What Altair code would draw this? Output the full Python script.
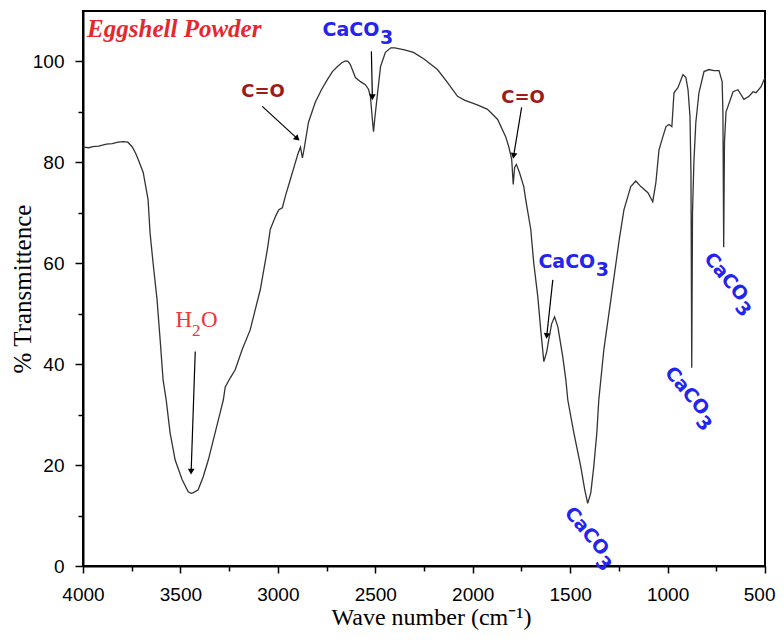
import altair as alt
import pandas as pd

# ---- spectrum (wave number in cm-1, % transmittance) ----
wavenumber = [4000, 3970, 3950, 3920, 3880, 3850, 3820, 3794, 3770, 3748, 3730, 3717, 3691, 3666,
              3656, 3640, 3620, 3604, 3589, 3573, 3553, 3527, 3491, 3460, 3445, 3435, 3409, 3383,
              3357, 3322, 3296, 3280, 3270, 3244, 3219, 3183, 3142, 3116, 3090, 3054, 3039, 3013,
              2995, 2977, 2960, 2936, 2910, 2895, 2884, 2874, 2866, 2843, 2808, 2775, 2746, 2720,
              2694, 2670, 2653, 2640, 2628, 2602, 2576, 2551, 2535, 2525, 2515, 2509, 2503, 2489,
              2473, 2448, 2420, 2400, 2350, 2304, 2250, 2181, 2129, 2078, 2040, 2011, 1970, 1924,
              1872, 1831, 1815, 1800, 1792, 1785, 1776, 1760, 1738, 1728, 1702, 1687, 1666, 1651,
              1635, 1620, 1610, 1595, 1580, 1563, 1538, 1522, 1512, 1481, 1445, 1425, 1410, 1394,
              1379, 1363, 1353, 1327, 1291, 1248, 1224, 1189, 1163, 1137, 1101, 1076, 1060, 1044,
              1024, 1008, 993, 978, 967, 947, 921, 906, 895, 885, 880, 876, 872, 865, 855, 839,
              813, 788, 762, 736, 720, 716, 712, 708, 700, 690, 664, 639, 608, 582, 561, 546, 520,
              505, 500]
transmittance = [83.0, 82.9, 83.1, 83.2, 83.6, 83.7, 84.0, 84.1, 84.0, 83.1, 81.8, 80.6, 78.0, 72.6,
                 66.1, 59.9, 52.8, 44.8, 36.9, 32.9, 26.4, 21.0, 17.1, 14.7, 14.4, 14.5, 15.1, 17.7,
                 21.0, 26.4, 30.4, 32.9, 35.5, 37.3, 38.9, 42.9, 46.8, 50.8, 54.8, 62.7, 66.7, 69.2,
                 70.6, 71.0, 73.5, 76.6, 80.0, 81.9, 83.0, 80.9, 82.5, 87.9, 91.9, 94.5, 96.4, 98.0,
                 99.0, 99.8, 100.1, 100.0, 99.4, 96.8, 96.0, 95.4, 94.5, 93.1, 88.5, 86.1, 88.5, 93.5,
                 99.0, 101.8, 102.7, 102.7, 102.3, 101.8, 100.5, 98.4, 95.8, 93.1, 92.3, 91.9, 91.3, 90.5,
                 88.5, 85.1, 83.1, 80.6, 75.6, 79.0, 79.6, 78.0, 75.2, 72.6, 66.7, 60.1, 53.4, 46.8,
                 40.5, 42.5, 44.8, 48.0, 49.4, 47.4, 41.5, 36.9, 32.9, 26.4, 19.6, 15.1, 12.4, 14.5,
                 19.6, 26.4, 32.9, 42.9, 52.8, 64.7, 70.6, 75.2, 76.3, 75.2, 74.0, 72.2, 76.0, 82.5,
                 85.1, 87.1, 87.5, 87.1, 93.8, 94.8, 97.4, 96.8, 94.4, 89.1, 78.0, 39.3, 70.0, 80.0, 87.9, 93.8,
                 98.0, 98.4, 98.2, 98.2, 96.0, 90.0, 63.2, 84.0, 90.0, 91.1, 94.0, 94.4, 92.5, 93.1, 94.0, 93.8, 95.0,
                 96.4, 96.6]

# ---- axes ----
x_major = [4000, 3500, 3000, 2500, 2000, 1500, 1000]
x_end = [500]
x_minor = [3750, 3250, 2750, 2250, 1750, 1250, 750]
y_major = [0, 20, 40, 60, 80, 100]
y_minor = [10, 30, 50, 70, 90]
x_domain = [500, 4000]
y_domain = [0, 110]

# ---- annotations ----
caco3_wn = [2625, 1517, 1415, 901, 700]
caco3_t = [106.3, 60.3, 6.9, 34.7, 57.3]
caco3_angle = [0, 0, 50, 50, 50]

co_wn = [3076, 1742]
co_t = [93.9, 92.8]

h2o_wn = [3440]
h2o_t = [48.8]

title_wn = [3979]
title_t = [106.5]

arrow_wn_start = [3080, 2520, 1749, 1589, 3424]
arrow_t_start = [91.1, 102.0, 90.9, 56.7, 42.5]
arrow_wn_head = [2900, 2515, 1790, 1620, 3445]
arrow_t_head = [84.7, 92.9, 81.3, 45.6, 18.7]
arrow_angle = [132, 180, 189, 187, 182]

spec = pd.DataFrame({"wn": wavenumber, "T": transmittance})
caco_df = pd.DataFrame({"wn": caco3_wn, "T": caco3_t, "ang": caco3_angle})
co_df = pd.DataFrame({"wn": co_wn, "T": co_t})
h2o_df = pd.DataFrame({"wn": h2o_wn, "T": h2o_t})
title_df = pd.DataFrame({"wn": title_wn, "T": title_t})
arrow_df = pd.DataFrame({"wn1": arrow_wn_start, "t1": arrow_t_start,
                         "wn2": arrow_wn_head, "t2": arrow_t_head, "ang": arrow_angle})

xs = alt.Scale(domain=x_domain, reverse=True, nice=False, zero=False)
ys = alt.Scale(domain=y_domain, nice=False, zero=False)

PLOT_W, PLOT_H = 682, 555

def X(f):
    return alt.X(f, type="quantitative", scale=xs, axis=None)

def Y(f):
    return alt.Y(f, type="quantitative", scale=ys, axis=None)

LABEL = dict(labelFont="Liberation Sans", labelFontSize=19, labelColor="black",
             labelFlush=False, labelOverlap=False)

line = alt.Chart(spec).mark_line(color="#333333", strokeWidth=1.3).encode(
    x=alt.X("wn:Q", scale=xs, axis=alt.Axis(
        values=x_major, format="d", orient="bottom", grid=False,
        title="Wave number (cm⁻¹)", titleFont="Liberation Serif", titleFontSize=24,
        titleFontWeight="normal", titleColor="black",
        titleX=348, titleY=51, titleBaseline="middle", titleAlign="center",
        labelPadding=12, tickSize=7, tickWidth=1.5, tickColor="black",
        domainColor="black", domainWidth=2, **LABEL)),
    y=alt.Y("T:Q", scale=ys, axis=alt.Axis(
        values=y_major, format="d", orient="left", grid=False,
        title="% Transmittence", titleFont="Liberation Serif", titleFontSize=25,
        titleFontWeight="normal", titleColor="black",
        titleX=-61, titleY=PLOT_H / 2, titleAngle=270, titleBaseline="middle", titleAlign="center",
        labelPadding=11, tickSize=8, tickWidth=1.5, tickColor="black",
        domainColor="black", domainWidth=2, **LABEL)),
)

minor = alt.Chart(spec.head(1)).mark_point(opacity=0).encode(
    x=alt.X("wn:Q", scale=xs, axis=alt.Axis(
        values=x_minor, labels=False, domain=False, grid=False, orient="bottom", title="",
        tickSize=5, tickWidth=1.5, tickColor="black")),
    y=alt.Y("T:Q", scale=ys, axis=alt.Axis(
        values=y_minor, labels=False, domain=False, grid=False, orient="left", title="",
        tickSize=5, tickWidth=1.5, tickColor="black")),
)

# last x label, kept inside the page
end_label = alt.Chart(spec.head(1)).mark_point(opacity=0).encode(
    x=alt.X("wn:Q", scale=xs, axis=alt.Axis(
        values=x_end, format="d", domain=False, grid=False, orient="bottom", title="",
        labelPadding=12, labelAlign="right", labelOffset=10,
        tickSize=7, tickWidth=1.5, tickColor="black", **LABEL)),
    y=Y("T"),
)

rules = alt.Chart(arrow_df).mark_rule(color="black", strokeWidth=1.2).encode(
    x=X("wn1"), y=Y("t1"), x2="wn2", y2="t2")

heads = alt.Chart(arrow_df).mark_point(shape="triangle-up", filled=True, color="black",
                                       opacity=1, size=45).encode(
    x=X("wn2"), y=Y("t2"), angle=alt.Angle("ang:Q", scale=None))

BLUE = "#2424f0"
caco_main = alt.Chart(caco_df).mark_text(
    text="CaCO", font="DejaVu Sans", fontWeight="bold", fontSize=19, color=BLUE,
    align="center", baseline="middle").encode(
    x=X("wn"), y=Y("T"), angle=alt.Angle("ang:Q", scale=None))

caco_sub = alt.Chart(caco_df).mark_text(
    text="3", font="DejaVu Sans", fontWeight="bold", fontSize=19, color=BLUE,
    align="left", baseline="middle", dx=29, dy=8).encode(
    x=X("wn"), y=Y("T"), angle=alt.Angle("ang:Q", scale=None))

co_text = alt.Chart(co_df).mark_text(
    text="C=O", font="DejaVu Sans", fontWeight="bold", fontSize=18, color="#9a1c1c",
    align="center", baseline="middle").encode(x=X("wn"), y=Y("T"))

RED = "#f03535"
h_text = alt.Chart(h2o_df).mark_text(
    text="H", font="Liberation Serif", fontSize=23, color=RED,
    align="right", baseline="middle").encode(x=X("wn"), y=Y("T"))
two_text = alt.Chart(h2o_df).mark_text(
    text="2", font="Liberation Serif", fontSize=17, color=RED,
    align="left", baseline="middle", dx=0, dy=11).encode(x=X("wn"), y=Y("T"))
o_text = alt.Chart(h2o_df).mark_text(
    text="O", font="Liberation Serif", fontSize=23, color=RED,
    align="left", baseline="middle", dx=9).encode(x=X("wn"), y=Y("T"))

title_text = alt.Chart(title_df).mark_text(
    text="Eggshell Powder", font="Liberation Serif", fontSize=25, fontStyle="italic",
    fontWeight="bold", color="#e8262d", align="left", baseline="middle").encode(
    x=X("wn"), y=Y("T"))

chart = alt.layer(
    line, minor, end_label, rules, heads, caco_main, caco_sub, co_text,
    h_text, two_text, o_text, title_text
).resolve_axis(x="independent", y="independent").properties(
    width=PLOT_W, height=PLOT_H,
    autosize=alt.AutoSizeParams(type="none"),
    padding={"left": 75, "top": 3, "right": 11, "bottom": 68},
).configure_view(stroke="black", strokeWidth=2)

chart.save("out.html", embed_options={"renderer": "svg", "actions": False})
